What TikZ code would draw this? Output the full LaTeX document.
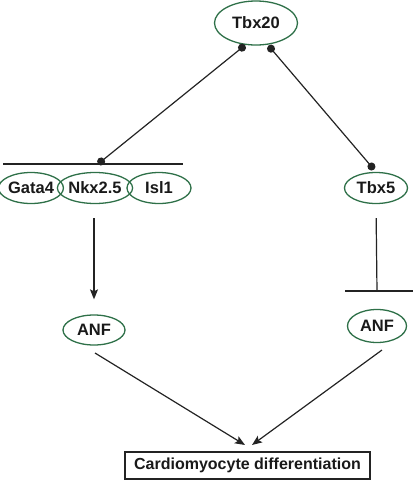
\documentclass[tikz,border=0pt]{standalone}
\usepackage{fontspec}
\setmainfont{Liberation Sans}
\usetikzlibrary{shapes.geometric,arrows.meta}
\definecolor{ellgreen}{RGB}{46,112,72}
\definecolor{linegray}{RGB}{35,35,35}
\tikzset{
  gene/.style={ellipse, draw=ellgreen, line width=1.3pt, inner sep=0pt,
    font=\fontsize{16.5}{19}\selectfont\bfseries, text=black!90},
  conn/.style={draw=linegray, line width=1.2pt},
  dotted ends/.style={conn, {Circle[length=8pt]}-{Circle[length=8pt]}},
  act/.style={conn, -{Stealth[length=10pt,width=8pt,inset=2pt]}},
  outbox/.style={draw=linegray, line width=1.1pt, inner sep=0pt,
    minimum width=245pt, minimum height=27pt,
    font=\fontsize{16}{19}\selectfont\bfseries, text=black!90}
}
\begin{document}
\begin{tikzpicture}[x=1pt,y=-1pt]
\useasboundingbox (0,0) rectangle (415,480);
% nodes
\node[gene, minimum width=83pt, minimum height=44pt] (tbx20) at (256,23) {Tbx20};
\node[gene, minimum width=62pt, minimum height=31pt] (gata4) at (31,188) {Gata4};
\node[gene, minimum width=64pt, minimum height=31pt] (nkx) at (95,188) {Nkx2.5};
\node[gene, minimum width=64pt, minimum height=31pt] (isl1) at (159,188) {Isl1};
\node[gene, minimum width=63pt, minimum height=31pt] (tbx5) at (376,188) {Tbx5};
\node[gene, minimum width=62pt, minimum height=30pt] (anfL) at (94,330) {ANF};
\node[gene, minimum width=59pt, minimum height=33pt] (anfR) at (377,326) {ANF};
\node[outbox] (diff) at (247.5,465.5) {Cardiomyocyte differentiation};
% coordinates
\coordinate (barL) at (3,164);
\coordinate (barR) at (183,164);
\coordinate (barMid) at (98,164);
\coordinate (inhL) at (345,291);
\coordinate (inhR) at (413,291);
\coordinate (inhMid) at (377,291);
\coordinate (tipL) at (245,445);
\coordinate (tipR) at (252,445);
\coordinate (startL) at (95,353);
\coordinate (startR) at (382,350);
% connectors
\draw[conn] (barL) -- (barR);
\draw[dotted ends, shorten <=-4pt] ([xshift=-14pt,yshift=-2pt]tbx20.south) -- (barMid);
\draw[dotted ends, shorten <=-4pt, shorten >=3pt] ([xshift=15pt,yshift=-3pt]tbx20.south) -- (tbx5.north);
\draw[act, shorten <=14pt, shorten >=15pt] ([xshift=-1pt]nkx.south) -- (anfL.north);
\draw[conn, shorten <=14pt] (tbx5.south) -- (inhMid);
\draw[conn] (inhL) -- (inhR);
\draw[act] (startL) -- (tipL);
\draw[act] (startR) -- (tipR);
\end{tikzpicture}
\end{document}
